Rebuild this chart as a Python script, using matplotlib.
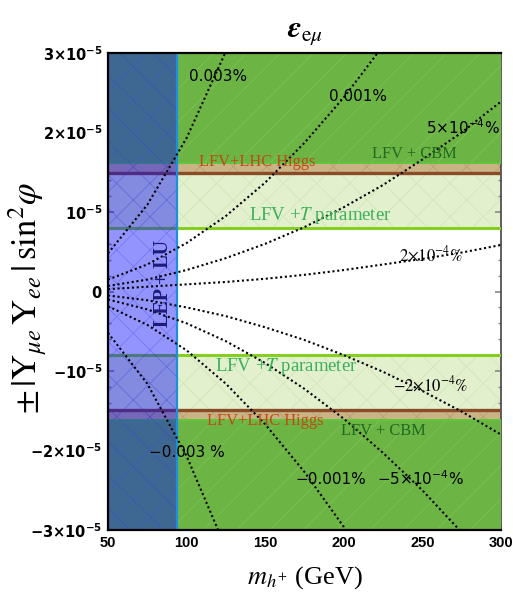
import matplotlib
matplotlib.use("Agg")
import matplotlib.pyplot as plt
import numpy as np

plt.rcParams['hatch.linewidth'] = 0.5

# limits (y in units of 1e-5)
m_min, m_max = 50, 300
y_min, y_max = -3.0, 3.0

# exclusion bounds
lep_lu = 94.0       # LEP + LU excluded below this mass
t_par = 0.80        # LFV + T parameter
lhc_higgs = 1.49    # LFV + LHC Higgs
cbm = 1.62          # LFV + CBM

# contour lines of eps_emu
m_grid = [50, 75, 100, 125, 150, 175, 200, 225, 250, 275, 300]
c_p003 = [0.48, 1.09, 1.93, 3.02, 4.34, 5.9, 7.7, 9.8, 12.1, 14.6, 17.4]
c_p001 = [0.15, 0.34, 0.61, 0.95, 1.37, 1.87, 2.44, 3.09, 3.8, 4.6, 5.5]
c_p5e4 = [0.07, 0.15, 0.27, 0.42, 0.60, 0.81, 1.06, 1.34, 1.66, 2.00, 2.39]
c_p2e4 = [0.03, 0.06, 0.09, 0.12, 0.16, 0.21, 0.27, 0.34, 0.41, 0.49, 0.585]
c_m2e4 = [-0.05, -0.11, -0.20, -0.31, -0.45, -0.61, -0.80, -1.01, -1.25, -1.51, -1.80]
c_m5e4 = [-0.10, -0.225, -0.40, -0.625, -0.90, -1.225, -1.60, -2.03, -2.50, -3.03, -3.6]
c_m001 = [-0.185, -0.42, -0.74, -1.16, -1.67, -2.27, -2.96, -3.75, -4.6, -5.6, -6.7]
c_m003 = [-0.52, -1.16, -2.07, -3.23, -4.66, -6.3, -8.3, -10.5, -12.9, -15.6, -18.6]

contours = [c_p003, c_p001, c_p5e4, c_p2e4, c_m2e4, c_m5e4, c_m001, c_m003]

y_ticks = [-3, -2, -1, 0, 1, 2, 3]
y_ticklabels = [r'$\mathbf{-3{\times}10^{-5}}$', r'$\mathbf{-2{\times}10^{-5}}$',
                r'$\mathbf{-10^{-5}}$', r'$\mathbf{0}$', r'$\mathbf{10^{-5}}$',
                r'$\mathbf{2{\times}10^{-5}}$', r'$\mathbf{3{\times}10^{-5}}$']
x_ticks = [50, 100, 150, 200, 250, 300]

fig = plt.figure(figsize=(5.13, 5.99), dpi=100)
ax = fig.add_axes([0.2105, 0.1152, 0.766, 0.7963])

green_dark = '#6cb444'
green_light = '#e2f0cd'
tan = '#cab385'

# light green T parameter region
for lo, hi in [(t_par, y_max), (y_min, -t_par)]:
    ax.fill_between([m_min, m_max], lo, hi, color=green_light, lw=0, zorder=1)
    ax.fill_between([m_min, m_max], lo, hi, facecolor='none', edgecolor='#d0e6b6',
                    hatch='x', lw=0, zorder=1.1)
# LHC Higgs region
for lo, hi in [(lhc_higgs, y_max), (y_min, -lhc_higgs)]:
    ax.fill_between([m_min, m_max], lo, hi, color=tan, lw=0, zorder=2)
    ax.fill_between([m_min, m_max], lo, hi, facecolor='none', edgecolor='#b89c6c',
                    hatch='x', lw=0, zorder=2.1)
# CBM region
for lo, hi in [(cbm, y_max), (y_min, -cbm)]:
    ax.fill_between([m_min, m_max], lo, hi, color=green_dark, lw=0, zorder=3)
    ax.fill_between([m_min, m_max], lo, hi, facecolor='none', edgecolor='#7ec45a',
                    hatch='/', lw=0, zorder=3.1)

for s in [1, -1]:
    ax.axhline(s * t_par, color='#86cf22', lw=2.2, zorder=4)
    ax.axhline(s * lhc_higgs, color='#8a4b28', lw=2.4, zorder=4)
    ax.axhline(s * cbm, color='#5cc83a', lw=1.4, zorder=4)

# LEP + LU
ax.axvspan(m_min, lep_lu, color='#0000ff', alpha=0.42, lw=0, zorder=5)
ax.fill_between([m_min, lep_lu], y_min, y_max, facecolor='none', edgecolor='#3030e0',
                hatch='x', lw=0, alpha=0.35, zorder=5.1)
ax.axvline(lep_lu, color='#1a90e0', lw=1.6, zorder=6)

# contours
for c in contours:
    ax.plot(m_grid, c, color='black', ls=(0, (1, 1.3)), lw=1.5, zorder=7)

# contour labels
sans = dict(fontsize=11, color='black', zorder=8, ha='center', va='center',
            family='DejaVu Sans')
ax.text(120, 2.71, '0.003%', **sans)
ax.text(209, 2.45, '0.001%', **sans)
ax.text(276, 2.06, r'$5{\times}10^{-4}\%$', math_fontfamily='dejavusans', **sans)
ax.text(100, -2.02, '\u22120.003 %', **sans)
ax.text(192, -2.37, '\u22120.001%', **sans)
ax.text(249, -2.35, r'$-5{\times}10^{-4}\%$', math_fontfamily='dejavusans', **sans)
ser = dict(fontsize=12, color='black', zorder=8, ha='center', va='center')
ax.text(255.5, 0.46, r'$2{\times}10^{-4}\%$', math_fontfamily='stix', **ser)
ax.text(255, -1.18, r'$-2{\times}10^{-4}\%$', math_fontfamily='stix', **ser)

# band labels
band = dict(fontsize=11.8, zorder=8, ha='center', va='center', family='Liberation Serif')
ax.text(145, 1.63, 'LFV+LHC Higgs', color='#c04a14', **band)
ax.text(150, -1.63, 'LFV+LHC Higgs', color='#c04a14', **band)
ax.text(245, 1.73, 'LFV + CBM', color='#1f6a1f', **band)
ax.text(225, -1.75, 'LFV + CBM', color='#1f6a1f', **band)
band['fontsize'] = 13.5
ax.text(185, 0.96, r'LFV +$T$ parameter', color='#3cb058', math_fontfamily='stix', **band)
ax.text(163.5, -0.94, r'LFV +$T$ parameter', color='#3cb058', math_fontfamily='stix', **band)
ax.text(85, 0.1, 'LEP + LU', color='#1c1c78', rotation=90, fontsize=14.5,
        fontweight='bold', family='Liberation Serif', ha='center', va='center', zorder=8)

ax.set_xlim(m_min, m_max)
ax.set_ylim(y_min, y_max)
ax.set_xticks(x_ticks)
ax.set_xticklabels([str(v) for v in x_ticks], fontweight='bold', fontsize=10.5,
                   family='Liberation Sans')
ax.set_yticks(y_ticks)
ax.set_yticklabels(y_ticklabels, fontsize=10.5)
for lab in ax.get_yticklabels():
    lab.set_math_fontfamily('dejavusans')
ax.set_xticks(np.arange(50, 301, 10), minor=True)
ax.set_yticks(np.arange(-3, 3.01, 0.2), minor=True)
ax.tick_params(which='both', direction='in', top=True, right=True, color='#888888')
ax.tick_params(which='major', length=4, width=1.2, pad=4)
ax.tick_params(which='minor', length=2.5, width=1)
for side in ['left', 'bottom', 'top']:
    ax.spines[side].set_linewidth(1.6)
    ax.spines[side].set_zorder(9)
ax.spines['right'].set_color('#444444')
ax.spines['right'].set_linewidth(1.2)

fig.text(305 / 513, 1 - 33 / 599, r'$\mathbfit{\varepsilon}_{\mathrm{e}\mu}$', fontsize=22,
         math_fontfamily='stix', ha='center', va='center')
fig.text(305 / 513, 1 - 578 / 599, r'$m_{h^{+}}$ (GeV)', fontsize=19,
         family='Liberation Serif', math_fontfamily='stix', ha='center', va='center')
fig.text(28 / 513, 1 - 298 / 599,
         r'$\pm\,|\mathrm{Y}_{\mu e}\,\mathrm{Y}_{ee}\,|\,\mathrm{sin}^{2}\varphi$',
         fontsize=25, math_fontfamily='stix', rotation=90, ha='center', va='center')

fig.savefig('out.png', dpi=100)
